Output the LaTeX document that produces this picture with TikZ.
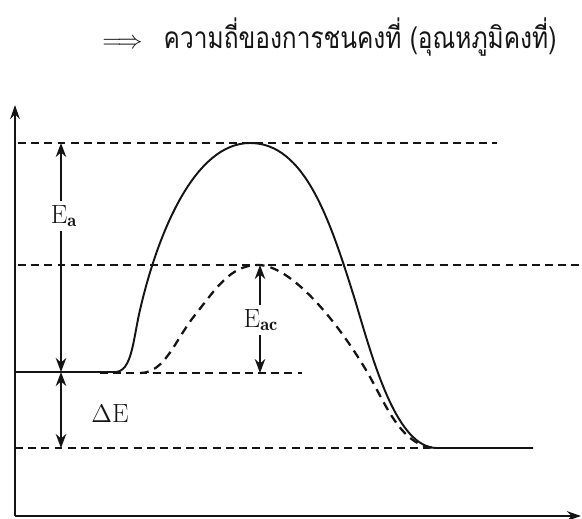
\documentclass[tikz,border=0pt]{standalone}
\usepackage{fontspec}
\usepackage{amsmath}
\usetikzlibrary{arrows.meta}
\newfontfamily\thaifont[Script=Thai,FakeStretch=0.82]{Loma}
\definecolor{inkblack}{RGB}{20,20,20}

\tikzset{
  axisline/.style={line width=1.1pt, -{Stealth[length=8pt,width=5.5pt]}},
  curveline/.style={line width=1.1pt},
  levelline/.style={line width=0.8pt, dash pattern=on 4.5pt off 3pt},
  arr/.style={line width=0.9pt, -{Stealth[length=8pt,width=6pt]}},
  elabel/.style={font=\fontsize{15}{18}\selectfont, inner sep=1pt}
}

\begin{document}
\begin{tikzpicture}[x=0.02cm, y=-0.02cm, inkblack]
  \useasboundingbox (0,0) rectangle (582,518);
  % axes
  \coordinate (O) at (15,516);
  \coordinate (ytip) at (15,105);
  \coordinate (xtip) at (581,516);
  \draw[axisline] (O) -- (ytip);
  \draw[axisline] (O) -- (xtip);
  % dashed levels
  \draw[levelline] (18,143) -- (497,143);
  \draw[levelline] (18,265) -- (580,265);
  \draw[levelline] (100,373) -- (302,373);
  \draw[levelline] (15,448) -- (430,448);
  % uncatalysed path
  \draw[curveline] (15,372) -- (115,372)
    .. controls (132,372) and (133,340) .. (140,310)
    .. controls (158,232) and (195,143) .. (250,143)
    .. controls (305,143) and (330,220) .. (355,300)
    .. controls (374,364) and (397,448) .. (437,448) -- (533,448);
  % catalysed path
  \draw[curveline, line width=1.3pt, dash pattern=on 5pt off 3.5pt]
    (140,373) .. controls (165,373) and (175,340) .. (195,315)
    .. controls (215,290) and (230,265) .. (258,265)
    .. controls (290,265) and (335,318) .. (366,370)
    .. controls (385,402) and (400,446) .. (435,448);
  % energy labels and arrows
  \node[elabel] (Ea) at (64,216) {E$_{\mathbf{a}}$};
  \coordinate (EaTop) at (61,143);
  \coordinate (EaBot) at (61,372);
  \draw[arr] (Ea.north -| EaTop) ++(0,-2) -- (EaTop);
  \draw[arr] (Ea.south -| EaBot) ++(0,2) -- (EaBot);
  \coordinate (dEBot) at (61,448);
  \draw[arr, {Stealth[length=8pt,width=6pt]}-{Stealth[length=8pt,width=6pt]}] (EaBot) -- (dEBot);
  \node[elabel] (dE) at (110,414) {$\Delta$E};
  \node[elabel] (Eac) at (261,320) {E$_{\mathbf{ac}}$};
  \coordinate (EacTop) at (260,265);
  \coordinate (EacBot) at (260,373);
  \draw[arr] (Eac.north -| EacTop) ++(0,-2) -- (EacTop);
  \draw[arr] (Eac.south -| EacBot) ++(0,2) -- (EacBot);
  % heading
  \node[anchor=west, inner sep=0pt] (title) at (102,37)
    {\fontsize{14}{16}\selectfont$\Longrightarrow$\hspace{0.42cm}%
     \thaifont\fontsize{17}{20}\selectfont ความถี่ของการชนคงที่ (อุณหภูมิคงที่)};
\end{tikzpicture}
\end{document}
